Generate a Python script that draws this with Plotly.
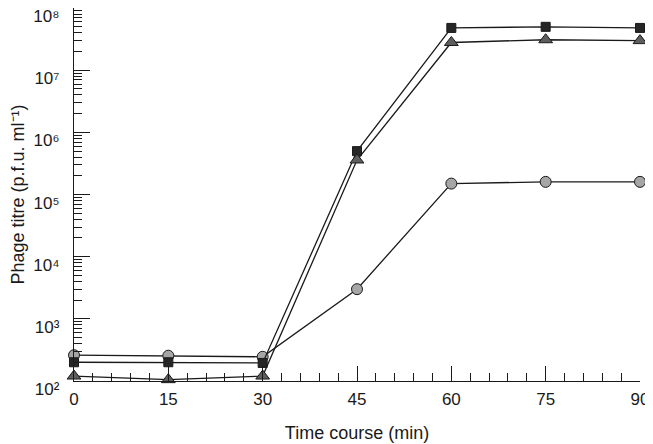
import plotly.graph_objects as go

# Time points (min)
time_min = [0, 15, 30, 45, 60, 75, 90]

# Phage titre (p.f.u. per ml) for the three series
squares = [200, 200, 195, 5.0e5, 4.8e7, 5.0e7, 4.8e7]
triangles = [120, 105, 120, 3.6e5, 2.8e7, 3.1e7, 3.0e7]
circles = [260, 255, 245, 3.0e3, 1.5e5, 1.6e5, 1.6e5]

y_tick_vals = [1e2, 1e3, 1e4, 1e5, 1e6, 1e7, 1e8]
y_tick_text = ["10²", "10³", "10⁴", "10⁵", "10⁶", "10⁷", "10⁸"]
x_tick_vals = [0, 15, 30, 45, 60, 75, 90]

# minor log ticks 2..9 per decade
y_minor = [m * 10 ** e for e in range(2, 8) for m in range(2, 10)]

LINE = "#1a1a1a"

fig = go.Figure()


def add_series(y, symbol, fill, size):
    fig.add_trace(go.Scatter(
        x=time_min, y=y, mode="lines+markers",
        line=dict(color=LINE, width=1.3),
        marker=dict(symbol=symbol, size=size, color=fill,
                    line=dict(color=LINE, width=1)),
        cliponaxis=False, showlegend=False,
    ))


add_series(circles, "circle", "#a6a6a6", 11)
add_series(squares, "square", "#262626", 9)
add_series(triangles, "triangle-up", "#5e5e5e", 12)

font = dict(family="Liberation Sans, Arial, sans-serif", size=17, color="#1a1a1a")

# the page body adds an 8px offset, so the figure is sized 8px smaller
fig.update_layout(
    width=645, height=436,
    margin=dict(l=66, r=13, t=0, b=63),
    paper_bgcolor="white", plot_bgcolor="white",
    font=font,
    xaxis=dict(
        range=[0, 90], tickvals=x_tick_vals, automargin=False,
        showline=True, linecolor=LINE, linewidth=1.3,
        ticks="inside", ticklen=15, tickwidth=1.3, tickcolor=LINE,
        minor=dict(dtick=3, tick0=0, ticks="inside", ticklen=8,
                   tickwidth=1.2, tickcolor=LINE),
        showgrid=False, zeroline=False,
        ticklabelstandoff=2, ticklabeloverflow="allow",
        title=dict(text="Time course (min)", font=dict(size=18), standoff=18),
    ),
    yaxis=dict(
        type="log", range=[1.9995, 8.002], automargin=False,
        tickvals=y_tick_vals, ticktext=y_tick_text,
        showline=True, linecolor=LINE, linewidth=1.3,
        ticks="inside", ticklen=16, tickwidth=1.3, tickcolor=LINE,
        minor=dict(tickvals=y_minor, ticks="inside", ticklen=8,
                   tickwidth=1, tickcolor=LINE),
        showgrid=False, zeroline=False,
        ticklabelstandoff=10, ticklabelshift=8, ticklabeloverflow="allow",
        title=dict(text="Phage titre (p.f.u. ml⁻¹)", font=dict(size=18), standoff=10),
    ),
)

fig.write_html("out.html")
